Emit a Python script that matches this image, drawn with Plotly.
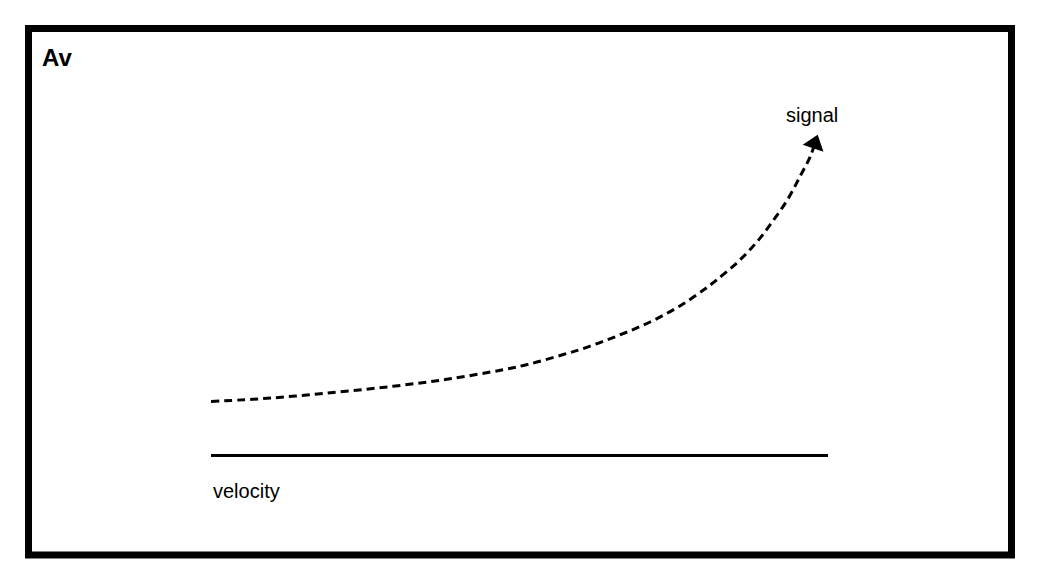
import plotly.graph_objects as go

# data (arbitrary units)
velocity = [0.00, 0.99, 1.98, 2.95, 3.87, 4.73, 5.17, 5.71, 6.01, 6.43, 6.84,
            7.25, 7.65, 8.01, 8.20, 8.54, 8.85, 9.11, 9.35, 9.55, 9.71, 9.82]
signal = [1.62, 1.73, 1.90, 2.09, 2.32, 2.60, 2.78, 3.07, 3.24, 3.53, 3.84,
          4.20, 4.63, 5.10, 5.38, 5.93, 6.55, 7.20, 7.87, 8.58, 9.17, 9.78]
x_label = "velocity"
y_label = "signal"
title_text = "Av"

# page body adds an 8px offset, so the figure is drawn 8px smaller
OFF = 8
W, H = 1040 - OFF, 584 - OFF
ML, MR, MT, MB = 211 - OFF, 212, 130 - OFF, 130
FONT = "Liberation Sans, Arial, Helvetica, sans-serif"

sizes = [0] * (len(velocity) - 1) + [19]

fig = go.Figure()
fig.add_trace(go.Scatter(
    x=velocity, y=signal,
    mode="lines+markers",
    line=dict(color="black", width=3, dash="8px,5px", shape="spline", smoothing=1.0),
    marker=dict(symbol="triangle-up", size=sizes, color="black", opacity=1,
                angleref="previous", standoff=7, line=dict(width=0)),
    hoverinfo="skip",
    showlegend=False,
))

# frame around the whole figure, positioned in paper units
pw, ph = W - ML - MR, H - MT - MB
def px_to_paper_x(p):
    return (p - OFF - ML) / pw
def px_to_paper_y(p):
    return (H - MB - (p - OFF)) / ph

fig.add_shape(type="rect", xref="paper", yref="paper",
              x0=px_to_paper_x(28.5), x1=px_to_paper_x(1011.5),
              y0=px_to_paper_y(555), y1=px_to_paper_y(28.5),
              line=dict(color="black", width=7), fillcolor="rgba(0,0,0,0)", layer="below")

fig.add_annotation(text=x_label, xref="x", yref="y", x=velocity[0], y=0,
                   xanchor="left", yanchor="middle", yshift=-37, showarrow=False,
                   font=dict(family=FONT, size=20, color="black"))
fig.add_annotation(text=y_label, xref="x", yref="y", x=velocity[-1], y=signal[-1],
                   xanchor="center", yanchor="middle", yshift=22, xshift=-5, showarrow=False,
                   font=dict(family=FONT, size=20, color="black"))

fig.update_layout(
    width=W, height=H,
    margin=dict(l=ML, r=MR, t=MT, b=MB, pad=0),
    paper_bgcolor="white", plot_bgcolor="white",
    title=dict(text="<b>" + title_text + "</b>", x=(42 - OFF) / W, xanchor="left",
               y=1 - (58 - OFF) / H, yanchor="middle", xref="container", yref="container",
               font=dict(family=FONT, size=24, color="black")),
    xaxis=dict(range=[0, 10], showline=True, linecolor="black", linewidth=3,
               showgrid=False, zeroline=False, showticklabels=False, ticks=""),
    yaxis=dict(range=[0, 10], showline=False, showgrid=False, zeroline=False,
               showticklabels=False, ticks=""),
)

fig.write_html("out.html")
